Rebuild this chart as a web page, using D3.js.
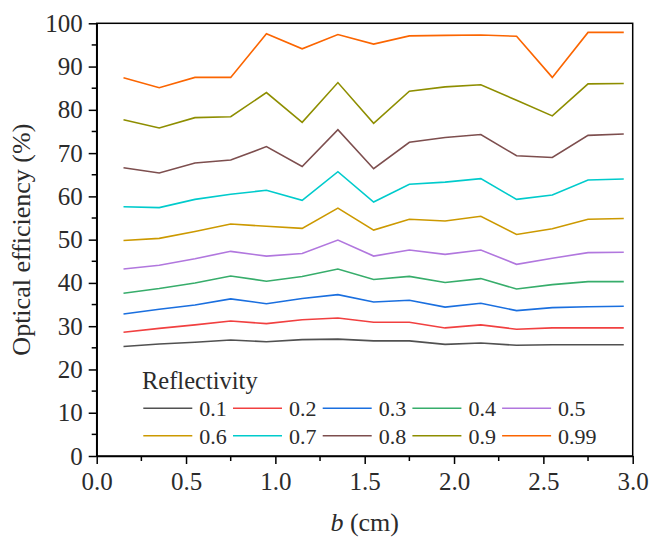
<!DOCTYPE html>
<html>
<head>
<meta charset="utf-8">
<script src="https://cdn.jsdelivr.net/npm/d3@7"></script>
<style>
  body { margin: 0; background: #fff; }
  div.chart { width: 652px; height: 538px; }
  text { font-family: "Liberation Serif", "Times New Roman", serif; fill: #2b2b2b; }
</style>
</head>
<body>
<div class="chart"></div>
<script>
//b values (cm)
var bValues = [0.15, 0.35, 0.55, 0.75, 0.95, 1.15, 1.35, 1.55, 1.75, 1.95, 2.15, 2.35, 2.55, 2.75, 2.95];

//reflectivity of each series
var reflectivity = ["0.1", "0.2", "0.3", "0.4", "0.5", "0.6", "0.7", "0.8", "0.9", "0.99"];

//optical efficiency (%) per series
var eff01  = [25.3, 25.9, 26.3, 26.8, 26.4, 26.9, 27.0, 26.6, 26.6, 25.8, 26.1, 25.6, 25.7, 25.7, 25.7];
var eff02  = [28.6, 29.5, 30.3, 31.2, 30.6, 31.5, 31.9, 30.9, 30.9, 29.6, 30.3, 29.3, 29.6, 29.6, 29.6];
var eff03  = [32.8, 33.9, 34.9, 36.3, 35.2, 36.4, 37.3, 35.6, 36.0, 34.4, 35.3, 33.6, 34.3, 34.5, 34.6];
var eff04  = [37.6, 38.7, 40.0, 41.6, 40.4, 41.5, 43.2, 40.8, 41.5, 40.1, 41.0, 38.6, 39.6, 40.3, 40.3];
var eff05  = [43.2, 44.1, 45.6, 47.3, 46.2, 46.8, 49.9, 46.2, 47.6, 46.6, 47.6, 44.3, 45.7, 47.0, 47.1];
var eff06  = [49.8, 50.3, 51.9, 53.6, 53.1, 52.6, 57.3, 52.2, 54.7, 54.3, 55.4, 51.2, 52.5, 54.7, 54.9];
var eff07  = [57.6, 57.4, 59.3, 60.5, 61.4, 59.1, 65.7, 58.7, 62.8, 63.3, 64.1, 59.3, 60.3, 63.8, 64.0];
var eff08  = [66.6, 65.4, 67.7, 68.4, 71.5, 66.9, 75.4, 66.4, 72.5, 73.6, 74.3, 69.4, 69.0, 74.1, 74.4];
var eff09  = [77.7, 75.8, 78.2, 78.4, 84.0, 77.1, 86.3, 76.9, 84.3, 85.3, 85.8, 82.2, 78.6, 86.0, 86.1];
var eff099 = [87.4, 85.1, 87.5, 87.5, 97.6, 94.1, 97.4, 95.2, 97.1, 97.2, 97.3, 97.0, 87.5, 97.9, 97.9];

//tick labels
var xTicks = [0.0, 0.5, 1.0, 1.5, 2.0, 2.5, 3.0];
var yTicks = [0, 10, 20, 30, 40, 50, 60, 70, 80, 90, 100];

var colors = ["#515151", "#f14040", "#1a6fdf", "#37ad6b", "#b177de",
              "#cc9900", "#00cbcc", "#7d4e4e", "#8e8e00", "#fb6501"];

function wrapper(){

  var w = 652, h = 538;
  var margin = {top: 23.3, right: 19.3, bottom: 82, left: 96.7};

  var svg = d3.select("div.chart")
              .append("svg")
              .attr("width", w)
              .attr("height", h);

  var x = d3.scaleLinear().domain([0, 3]).range([margin.left, w - margin.right]);
  var y = d3.scaleLinear().domain([0, 100]).range([h - margin.bottom, margin.top]);

  var series = [eff01, eff02, eff03, eff04, eff05, eff06, eff07, eff08, eff09, eff099].map(function(vals, i){
    return {
      name: reflectivity[i],
      color: colors[i],
      points: vals.map(function(v, j){ return {b: bValues[j], e: v}; })
    };
  });

  //lines
  var line = d3.line().x(d => x(d.b)).y(d => y(d.e));

  svg.append("g")
     .selectAll("path")
     .data(series)
     .enter()
     .append("path")
        .attr("d", d => line(d.points))
        .attr("fill", "none")
        .attr("stroke", d => d.color)
        .attr("stroke-width", 1.6)
        .attr("stroke-linejoin", "miter");

  //frame (top and right)
  svg.append("rect")
     .attr("x", x(0))
     .attr("y", y(100))
     .attr("width", x(3) - x(0))
     .attr("height", y(0) - y(100))
     .attr("fill", "none")
     .attr("stroke", "#000")
     .attr("stroke-width", 1.5);

  //minor ticks
  var xMinor = d3.range(0.25, 3, 0.5);
  var yMinor = d3.range(5, 100, 10);

  svg.append("g")
     .selectAll("line")
     .data(xMinor)
     .enter()
     .append("line")
        .attr("x1", d => x(d)).attr("x2", d => x(d))
        .attr("y1", y(0)).attr("y2", y(0) + 5)
        .attr("stroke", "#000").attr("stroke-width", 1.5);

  svg.append("g")
     .selectAll("line")
     .data(yMinor)
     .enter()
     .append("line")
        .attr("y1", d => y(d)).attr("y2", d => y(d))
        .attr("x1", x(0)).attr("x2", x(0) - 5)
        .attr("stroke", "#000").attr("stroke-width", 1.5);

  //axes
  var xAxis = svg.append("g")
                 .attr("transform", `translate(0,${y(0)})`)
                 .call(d3.axisBottom(x).tickValues(xTicks).tickFormat(d3.format(".1f")).tickSize(8).tickSizeOuter(0).tickPadding(8));

  var yAxis = svg.append("g")
                 .attr("transform", `translate(${x(0)},0)`)
                 .call(d3.axisLeft(y).tickValues(yTicks).tickSize(8).tickSizeOuter(0).tickPadding(6));

  [xAxis, yAxis].forEach(function(g){
    g.select(".domain").attr("stroke", "#000").attr("stroke-width", 1.5);
    g.selectAll(".tick line").attr("stroke", "#000").attr("stroke-width", 1.5);
    g.selectAll(".tick text")
     .attr("font-size", 25)
     .attr("fill", "#2b2b2b");
  });

  //axis titles
  var xt = svg.append("text")
              .attr("x", (x(0) + x(3)) / 2)
              .attr("y", 531)
              .attr("text-anchor", "middle")
              .attr("font-size", 26);
  xt.append("tspan").attr("font-style", "italic").text("b");
  xt.append("tspan").text(" (cm)");

  svg.append("text")
     .attr("transform", `translate(30,${(y(0) + y(100)) / 2}) rotate(-90)`)
     .attr("text-anchor", "middle")
     .attr("font-size", 26)
     .text("Optical efficiency (%)");

  //legend
  var legend = svg.append("g");

  legend.append("text")
        .attr("x", 142)
        .attr("y", 389)
        .attr("font-size", 24.5)
        .text("Reflectivity");

  var items = legend.selectAll(".item")
                    .data(series)
                    .enter()
                    .append("g")
                    .attr("class", "item")
                    .attr("transform", (d, i) => `translate(${143.3 + (i % 5) * 89.7},${i < 5 ? 408.3 : 435.7})`);

  items.append("line")
       .attr("x1", 0).attr("x2", 49)
       .attr("stroke", d => d.color)
       .attr("stroke-width", 1.6);

  items.append("text")
       .attr("x", 56)
       .attr("y", 8)
       .attr("font-size", 22)
       .text(d => d.name);
}
window.onload = wrapper();
</script>
</body>
</html>
